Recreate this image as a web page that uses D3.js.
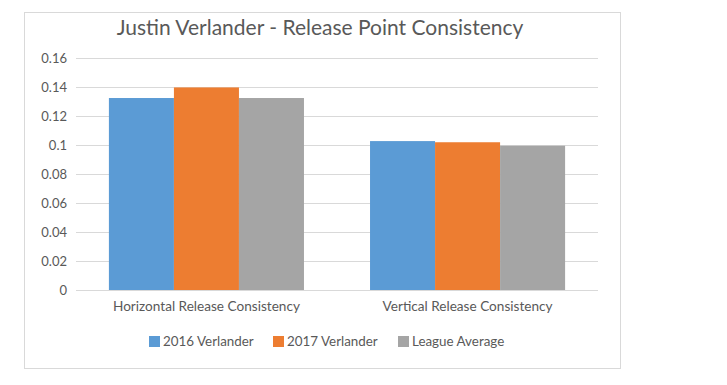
<!DOCTYPE html>
<html>
<head>
<meta charset="utf-8">
<script src="https://cdn.jsdelivr.net/npm/d3@7"></script>
<style>
  body { margin: 0; background: #fff; }
  text { font-family: Lato, "Open Sans", sans-serif; }
</style>
</head>
<body>
<div class="canvas"></div>
<script>
// data
const categories = ['Horizontal Release Consistency', 'Vertical Release Consistency'];
const seriesNames = ['2016 Verlander', '2017 Verlander', 'League Average'];
const v2016 = [0.1324, 0.1027];
const v2017 = [0.1397, 0.1019];
const league = [0.1324, 0.0995];
const yTicks = [0, 0.02, 0.04, 0.06, 0.08, 0.1, 0.12, 0.14, 0.16];
const colors = ['#5B9BD5', '#ED7D31', '#A5A5A5'];

const series = [v2016, v2017, league];

// dimensions
const width = 727, height = 385;
const margin = {top: 58, right: 129, bottom: 95, left: 76};
const graphWidth = width - margin.left - margin.right;
const graphHeight = height - margin.top - margin.bottom;

const svg = d3.select('.canvas').append('svg')
    .attr('width', width)
    .attr('height', height);

// chart border
svg.append('rect')
    .attr('x', 24.5).attr('y', 12.5)
    .attr('width', 596).attr('height', 356)
    .attr('fill', '#fff')
    .attr('stroke', '#D9D9D9');

// title
svg.append('text')
    .attr('x', 320).attr('y', 35)
    .attr('text-anchor', 'middle')
    .attr('font-size', 21)
    .attr('fill', '#595959')
    .text('Justin Verlander - Release Point Consistency');

const graph = svg.append('g')
    .attr('transform', `translate(${margin.left},${margin.top})`);

const xScale = d3.scaleBand().domain(categories).range([0, graphWidth]).paddingInner(0.253).paddingOuter(0.126);
const xInner = d3.scaleBand().domain(seriesNames).range([0, xScale.bandwidth()]);
const yScale = d3.scaleLinear().domain([0, 0.16]).range([graphHeight, 0]);

// gridlines
graph.selectAll('line.grid')
    .data(yTicks)
    .enter().append('line')
    .attr('class', 'grid')
    .attr('x1', 0).attr('x2', graphWidth)
    .attr('y1', d => Math.round(yScale(d)) + 0.5)
    .attr('y2', d => Math.round(yScale(d)) + 0.5)
    .attr('stroke', '#D9D9D9');

// y axis labels
const yAxis = d3.axisLeft(yScale).tickValues(yTicks).tickSize(0).tickPadding(9).tickFormat(d => String(+d.toFixed(2)));
const yAxisGroup = graph.append('g').call(yAxis);
yAxisGroup.select('.domain').remove();
yAxisGroup.selectAll('text')
    .attr('font-family', 'Lato, "Open Sans", sans-serif')
    .attr('font-size', 13)
    .attr('fill', '#595959');

// bars
const groups = graph.selectAll('g.cat')
    .data(categories)
    .enter().append('g')
    .attr('class', 'cat')
    .attr('transform', d => `translate(${xScale(d)},0)`);

groups.selectAll('rect')
    .data((c, i) => seriesNames.map((s, j) => ({s, v: series[j][i], j})))
    .enter().append('rect')
    .attr('x', d => xInner(d.s))
    .attr('y', d => yScale(d.v))
    .attr('width', xInner.bandwidth())
    .attr('height', d => graphHeight - yScale(d.v))
    .attr('fill', d => colors[d.j]);

// x axis labels
const xAxis = d3.axisBottom(xScale).tickSize(0).tickPadding(11);
const xAxisGroup = graph.append('g')
    .attr('transform', `translate(0,${graphHeight})`)
    .call(xAxis);
xAxisGroup.select('.domain').remove();
xAxisGroup.selectAll('text')
    .attr('font-family', 'Lato, "Open Sans", sans-serif')
    .attr('font-size', 13.6)
    .attr('fill', '#595959');

// legend
const legendX = [149, 273, 398];
const legend = svg.selectAll('g.legend')
    .data(seriesNames)
    .enter().append('g')
    .attr('class', 'legend')
    .attr('transform', (d, i) => `translate(${legendX[i]},336)`);
legend.append('rect')
    .attr('width', 11).attr('height', 11)
    .attr('fill', (d, i) => colors[i]);
legend.append('text')
    .attr('x', 14).attr('y', 10)
    .attr('font-size', 13.4)
    .attr('fill', '#595959')
    .text(d => d);
</script>
</body>
</html>
